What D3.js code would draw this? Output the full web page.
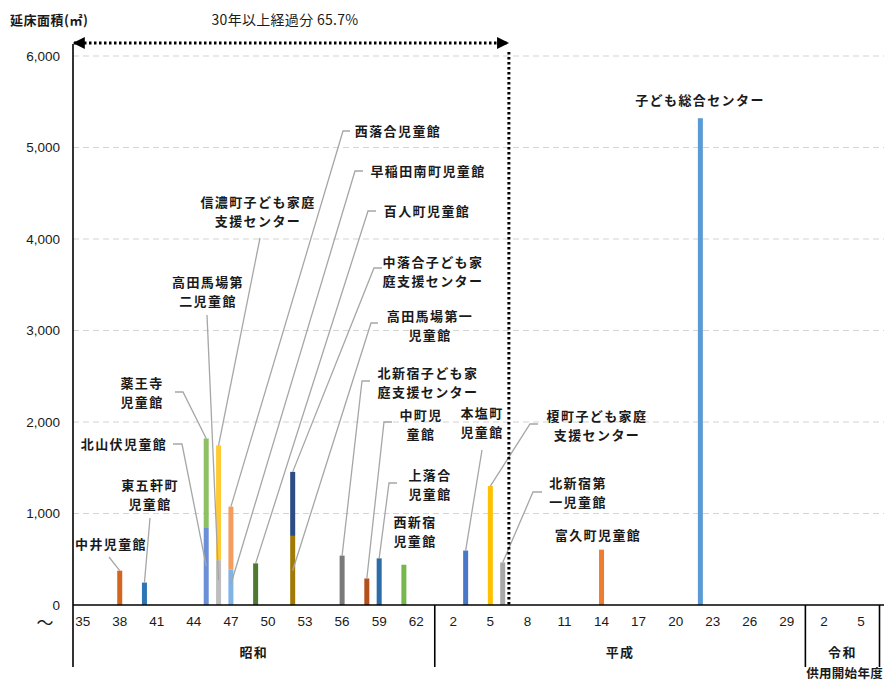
<!DOCTYPE html>
<head>
    <meta charset="utf-8">
    <style>
        body {
            margin: 0;
            background: #fff;
        }
        svg text {
            fill: #1a1a1a;
        }
        .jp {
            font-family: "Noto Sans CJK JP", sans-serif;
            font-weight: bold;
            font-size: 13px;
            letter-spacing: 1.4px;
        }
        .num {
            font-family: "Liberation Sans", Arial, sans-serif;
            font-size: 13.5px;
        }
        .leader {
            fill: none;
            stroke: #a6a6a6;
            stroke-width: 1.3px;
        }
    </style>
    <script src="https://cdn.jsdelivr.net/npm/d3@7"></script>
</head>
<body>
<script>
    // data: 施設名 / 供用開始の元号・年度 / 延床面積(㎡)
    const facilities = [
        "中井児童館", "東五軒町児童館", "北山伏児童館", "薬王寺児童館",
        "高田馬場第二児童館", "信濃町子ども家庭支援センター", "早稲田南町児童館", "西落合児童館",
        "百人町児童館", "高田馬場第一児童館", "中落合子ども家庭支援センター", "北新宿子ども家庭支援センター",
        "中町児童館", "上落合児童館", "西新宿児童館",
        "本塩町児童館", "榎町子ども家庭支援センター", "北新宿第一児童館", "富久町児童館", "子ども総合センター"
    ];
    const openEra = ["昭和", "昭和", "昭和", "昭和", "昭和", "昭和", "昭和", "昭和", "昭和", "昭和",
        "昭和", "昭和", "昭和", "昭和", "昭和", "平成", "平成", "平成", "平成", "平成"];
    const openYear = [38, 40, 45, 45, 46, 46, 47, 47, 49, 52, 52, 56, 58, 59, 61, 3, 5, 6, 14, 22];
    const floorArea = [375, 245, 850, 970, 490, 1255, 390, 685, 455, 755, 700, 540,
        290, 510, 440, 595, 1300, 465, 605, 5320];

    // 年度の並び（元号ごと）
    const eras = ["昭和", "平成", "令和"];
    const eraFirst = [35, 1, 1];
    const eraLast = [63, 30, 6];
    const tickLabels = ["35", "38", "41", "44", "47", "50", "53", "56", "59", "62",
        "2", "5", "8", "11", "14", "17", "20", "23", "26", "29", "2", "5"];
    const yTicks = [0, 1000, 2000, 3000, 4000, 5000, 6000];
    const overThirtyShare = "65.7%";

    // styles
    const barColors = ["#d3651f", "#2e75b6", "#6b8fd6", "#8cc063", "#bdbdbd", "#ffca33", "#80b4e6", "#f59d5e",
        "#4d7a30", "#a07a04", "#2b4c84", "#7a7a7a", "#b4501a", "#2c6ca8", "#76b84c",
        "#4a78c8", "#ffc000", "#a8a8a8", "#ed7d31", "#5b9bd5"];

    // label layout (pixel positions, index into facilities, frac = where on the bar the leader ends)
    const labelLayout = [
        { i: 0, lines: ["中井児童館"], x: 111, y: 544, lead: [[109, 557]], frac: 1 },
        { i: 1, lines: ["東五軒町", "児童館"], x: 150, y: 485, lead: [[150, 518]], frac: 1 },
        { i: 2, lines: ["北山伏児童館"], x: 124, y: 444, lead: [[173, 444], [182, 444]], frac: 0.5 },
        { i: 3, lines: ["薬王寺", "児童館"], x: 142, y: 383, lead: [[175, 392], [183, 392]], frac: 1 },
        { i: 4, lines: ["高田馬場第", "二児童館"], x: 208, y: 282, lead: [[207, 315]], frac: 0.55 },
        { i: 5, lines: ["信濃町子ども家庭", "支援センター"], x: 258, y: 202, lead: [[260, 238]], frac: 1 },
        { i: 6, lines: ["早稲田南町児童館"], x: 428, y: 171, lead: [[363, 171], [355, 171]], frac: 0.58 },
        { i: 7, lines: ["西落合児童館"], x: 398, y: 131, lead: [[350, 131], [343, 131]], frac: 1 },
        { i: 8, lines: ["百人町児童館"], x: 427, y: 211, lead: [[376, 211], [368, 211]], frac: 1 },
        { i: 9, lines: ["高田馬場第一", "児童館"], x: 430, y: 316, lead: [[378, 323], [371, 323]], frac: 0.5 },
        { i: 10, lines: ["中落合子ども家", "庭支援センター"], x: 433, y: 262, lead: [[382, 268], [374, 268]], frac: 1 },
        { i: 11, lines: ["北新宿子ども家", "庭支援センター"], x: 428, y: 373, lead: [[370, 381], [362, 381]], frac: 1 },
        { i: 12, lines: ["中町児", "童館"], x: 421, y: 415, lead: [[392, 422], [384, 422]], frac: 1 },
        { i: 13, lines: ["上落合", "児童館"], x: 430, y: 475, lead: [[397, 483], [389, 483]], frac: 1 },
        { i: 14, lines: ["西新宿", "児童館"], x: 415, y: 522, lead: null },
        { i: 15, lines: ["本塩町", "児童館"], x: 482, y: 413, lead: [[482, 450]], frac: 1 },
        { i: 16, lines: ["榎町子ども家庭", "支援センター"], x: 597, y: 416, lead: [[538, 424], [530, 424]], frac: 1 },
        { i: 17, lines: ["北新宿第", "一児童館"], x: 578, y: 483, lead: [[542, 492], [533, 492]], frac: 1 },
        { i: 18, lines: ["富久町児童館"], x: 598, y: 535, lead: null },
        { i: 19, lines: ["子ども総合センター"], x: 700, y: 100, lead: null }
    ];

    const width = 884, height = 684;
    const plotLeft = 73, plotRight = 884, axisY = 605;

    // slot keys
    const slots = [];
    const slotEra = [];
    eras.forEach((e, k) => {
        for (let yy = eraFirst[k]; yy <= eraLast[k]; yy++) { slots.push(e + yy); slotEra.push(e); }
    });

    const x = d3.scaleBand().domain(slots).range([76.5, 879.5]);
    const y = d3.scaleLinear().domain([0, 6000]).range([axisY, 56]);

    // stacking inside the same year
    const bars = [];
    const acc = {};
    facilities.forEach((name, i) => {
        const key = openEra[i] + openYear[i];
        const y0 = acc[key] || 0;
        acc[key] = y0 + floorArea[i];
        bars.push({ i, name, key, y0, y1: y0 + floorArea[i], color: barColors[i] });
    });

    const svg = d3.select("body").append("svg")
        .attr("width", width)
        .attr("height", height)
        .style("display", "block");

    // grid
    svg.append("g").selectAll("line")
        .data(yTicks.filter(d => d > 0))
        .join("line")
        .attr("x1", plotLeft).attr("x2", plotRight)
        .attr("y1", d => y(d)).attr("y2", d => y(d))
        .attr("stroke", "#d4d4d4")
        .attr("stroke-width", 1.2)
        .attr("stroke-dasharray", "6,4");

    // y labels
    svg.append("g").selectAll("text")
        .data(yTicks)
        .join("text")
        .attr("class", "num")
        .attr("x", 60)
        .attr("y", d => y(d))
        .attr("dy", "0.35em")
        .attr("text-anchor", "end")
        .text(d => d3.format(",")(d));

    svg.append("text").attr("class", "jp")
        .attr("x", 10).attr("y", 25)
        .style("letter-spacing", "0.5px")
        .text("延床面積(㎡)");

    svg.append("text")
        .attr("x", 45).attr("y", 629)
        .attr("text-anchor", "middle")
        .style("font-family", "Noto Sans CJK JP")
        .style("font-size", "17px")
        .text("～");

    // bars
    const barW = 5;
    svg.append("g").selectAll("rect")
        .data(bars)
        .join("rect")
        .attr("x", d => x(d.key) + x.bandwidth() / 2 - barW / 2)
        .attr("width", barW)
        .attr("y", d => y(d.y1))
        .attr("height", d => y(d.y0) - y(d.y1))
        .attr("fill", d => d.color);

    // leader lines
    const line = d3.line();
    svg.append("g").selectAll("path")
        .data(labelLayout.filter(d => d.lead))
        .join("path")
        .attr("class", "leader")
        .attr("d", d => {
            const b = bars[d.i];
            const end = [x(b.key) + x.bandwidth() / 2, y(b.y0 + (b.y1 - b.y0) * d.frac)];
            return line(d.lead.concat([end]));
        });

    // labels
    const lab = svg.append("g").selectAll("text")
        .data(labelLayout)
        .join("text")
        .attr("class", "jp")
        .attr("text-anchor", "middle")
        .attr("x", d => d.x)
        .attr("y", d => d.y);
    lab.selectAll("tspan")
        .data(d => d.lines.map(t => ({ t, x: d.x })))
        .join("tspan")
        .attr("x", d => d.x)
        .attr("dy", (d, k) => k === 0 ? "0.35em" : "19")
        .text(d => d.t);

    // x axis
    svg.append("line")
        .attr("x1", plotLeft).attr("x2", plotRight)
        .attr("y1", axisY).attr("y2", axisY)
        .attr("stroke", "#000").attr("stroke-width", 1.6);
    svg.append("line")
        .attr("x1", plotLeft).attr("x2", plotLeft)
        .attr("y1", 44).attr("y2", 667)
        .attr("stroke", "#000").attr("stroke-width", 1.6);

    svg.append("g").selectAll("text")
        .data(tickLabels)
        .join("text")
        .attr("class", "num")
        .attr("x", (d, k) => x(slots[k * 3]) + x.bandwidth() / 2)
        .attr("y", 626)
        .attr("text-anchor", "middle")
        .text(d => d);

    // era separators and names
    const eraBounds = eras.map(e => {
        const ks = slots.filter((s, k) => slotEra[k] === e);
        return { e, x0: x(ks[0]), x1: x(ks[ks.length - 1]) + x.bandwidth() };
    });
    svg.append("g").selectAll("line")
        .data(eraBounds.slice(1))
        .join("line")
        .attr("x1", d => d.x0).attr("x2", d => d.x0)
        .attr("y1", axisY).attr("y2", 667)
        .attr("stroke", "#000").attr("stroke-width", 1.6);
    svg.append("line")
        .attr("x1", eraBounds[2].x1).attr("x2", eraBounds[2].x1)
        .attr("y1", axisY).attr("y2", 667)
        .attr("stroke", "#000").attr("stroke-width", 1.6);
    svg.append("g").selectAll("text")
        .data(eraBounds)
        .join("text")
        .attr("class", "jp")
        .attr("x", (d, k) => k === 0 ? (plotLeft + d.x1) / 2 : (d.x0 + d.x1) / 2)
        .attr("y", 652)
        .attr("dy", "0.35em")
        .attr("text-anchor", "middle")
        .text(d => d.e);

    svg.append("text").attr("class", "jp")
        .attr("x", 883).attr("y", 678)
        .attr("text-anchor", "end")
        .style("font-size", "12.5px")
        .style("letter-spacing", "0.3px")
        .text("供用開始年度");

    // 30年以上経過 (平成6年度まで)
    const cutX = x("平成7");
    svg.append("line")
        .attr("x1", cutX).attr("x2", cutX)
        .attr("y1", 52).attr("y2", axisY)
        .attr("stroke", "#000").attr("stroke-width", 3)
        .attr("stroke-dasharray", "2.5,2.5");

    const defs = svg.append("defs");
    defs.append("marker")
        .attr("id", "arr")
        .attr("viewBox", "0 0 10 10")
        .attr("refX", 9).attr("refY", 5)
        .attr("markerWidth", 4.5).attr("markerHeight", 4)
        .attr("markerUnits", "strokeWidth")
        .attr("orient", "auto-start-reverse")
        .append("path").attr("d", "M0,0L10,5L0,10z").attr("fill", "#000");

    svg.append("line")
        .attr("x1", plotLeft + 1).attr("x2", cutX - 1)
        .attr("y1", 43).attr("y2", 43)
        .attr("stroke", "#000").attr("stroke-width", 3)
        .attr("stroke-dasharray", "2.5,2.5")
        .attr("marker-start", "url(#arr)")
        .attr("marker-end", "url(#arr)");

    svg.append("text").attr("class", "jp")
        .attr("x", 285).attr("y", 25)
        .attr("text-anchor", "middle")
        .style("font-weight", "normal")
        .style("font-size", "14px")
        .style("letter-spacing", "0.3px")
        .text("30年以上経過分 " + overThirtyShare);
</script>
</body>
